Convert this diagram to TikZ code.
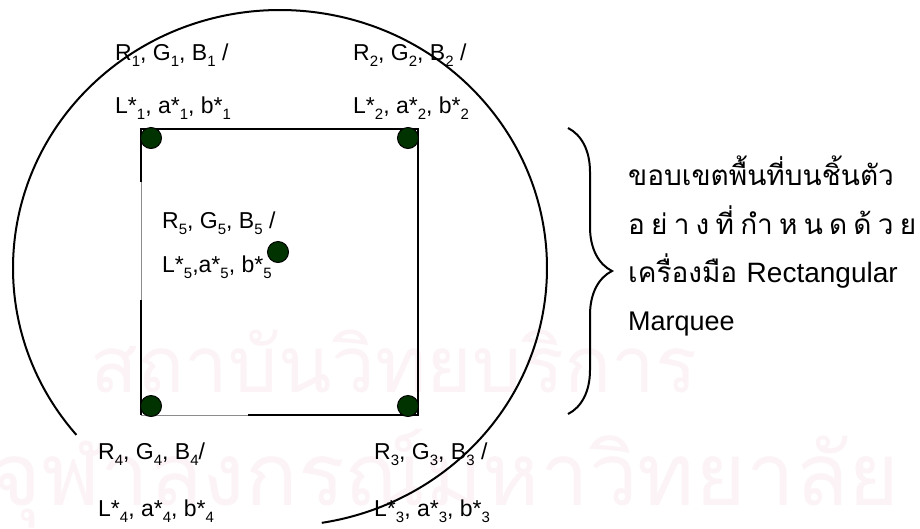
\documentclass[tikz,border=0pt]{standalone}
\usepackage{fontspec}
\setmainfont{Liberation Sans}
\newfontfamily\thaifont[Script=Thai]{Loma}
\usetikzlibrary{decorations.pathreplacing}
\definecolor{dotgreen}{RGB}{0,51,0}
\definecolor{wmpink}{RGB}{252,243,247}
\newcommand\sbx[1]{\raisebox{-6pt}{\fontsize{15}{15}\selectfont #1}}
\tikzset{
  lbl/.style={anchor=base west, inner sep=0pt, font=\fontsize{23}{23}\selectfont},
  thlbl/.style={anchor=base west, inner sep=0pt, font=\thaifont\fontsize{28}{28}\selectfont},
  dotnode/.style={circle, fill=dotgreen, draw=black, line width=1pt, minimum size=21pt, inner sep=0pt},
  heavy/.style={line width=2pt, black},
  faint/.style={line width=0.8pt, black!45},
  wm/.style={anchor=base west, inner sep=0pt, text=wmpink, font=\thaifont\fontsize{78}{78}\selectfont}
}
\begin{document}
\begin{tikzpicture}[x=1pt,y=1pt]
\useasboundingbox (0,0) rectangle (920,-528);
\clip (0,0) rectangle (920,-528);
\fill[white] (0,0) rectangle (920,-528);
% watermark
\node[wm] (wm1) at (90,-392) {สถาบันวิทยบริการ};
\node[wm, font=\thaifont\fontsize{87}{87}\selectfont] (wm2) at (-10,-505) {จุฬาลงกรณ์มหาวิทยาลัย};
% ellipse arc
\coordinate (ellC) at (280,-268);
\draw[heavy] (ellC) ++(220.3:267pt and 258pt) arc[start angle=220.3, end angle=-81, x radius=267pt, y radius=258pt];
% rectangle
\coordinate (TL) at (141,-129);
\coordinate (TR) at (418,-129);
\coordinate (BR) at (418,-415);
\coordinate (BL) at (141,-415);
\coordinate (Lg1) at (141,-182);
\coordinate (Lg2) at (141,-300);
\coordinate (Bg) at (248,-415);
\draw[heavy] (Lg1) -- (TL) -- (TR) -- (BR) -- (Bg);
\draw[heavy] (Lg2) -- (BL);
\draw[faint] (Lg1) -- (Lg2);
\draw[faint] (BL) -- (Bg);
% dots
\node[dotnode] (d1) at (151,-138) {};
\node[dotnode] (d2) at (408,-138) {};
\node[dotnode] (d3) at (408,-406) {};
\node[dotnode] (d4) at (151,-406) {};
\node[dotnode] (d5) at (278,-252) {};
% labels
\node[lbl] (r1) at (115,-60) {R\sbx{1}, G\sbx{1}, B\sbx{1} /};
\node[lbl] (l1) at (115,-113) {L*\sbx{1}, a*\sbx{1}, b*\sbx{1}};
\node[lbl] (r2) at (353,-60) {R\sbx{2}, G\sbx{2}, B\sbx{2} /};
\node[lbl] (l2) at (353,-113) {L*\sbx{2}, a*\sbx{2}, b*\sbx{2}};
\node[lbl] (r5) at (162,-228) {R\sbx{5}, G\sbx{5}, B\sbx{5} /};
\node[lbl] (l5) at (162,-272) {L*\sbx{5},a*\sbx{5}, b*\sbx{5}};
\node[lbl] (r4) at (98,-459) {R\sbx{4}, G\sbx{4}, B\sbx{4}/};
\node[lbl] (l4) at (98,-516) {L*\sbx{4}, a*\sbx{4}, b*\sbx{4}};
\node[lbl] (r3) at (374,-459) {R\sbx{3}, G\sbx{3}, B\sbx{3} /};
\node[lbl] (l3) at (374,-516) {L*\sbx{3}, a*\sbx{3}, b*\sbx{3}};
% brace
\coordinate (brTop) at (568,-128);
\coordinate (brBot) at (568,-414);
\draw[heavy, decorate, decoration={brace, amplitude=44pt}] (brTop) -- (brBot);
% right text
\node[thlbl] (t1) at (628,-185) {ขอบเขตพื้นที่บนชิ้นตัว};
\node[thlbl] (t2) at (628,-234) {\makebox[288pt][s]{อ\hfill ย่\hfill า\hfill ง\hfill ที่\hfill กำ\hfill ห\hfill น\hfill ด\hfill ด้\hfill ว\hfill ย}};
\node[thlbl] (t3) at (628,-282) {เครื่องมือ {\rmfamily\fontsize{28}{28}\selectfont Rectangular}};
\node[lbl, font=\fontsize{27}{27}\selectfont] (t4) at (628,-330) {Marquee};
\end{tikzpicture}
\end{document}
